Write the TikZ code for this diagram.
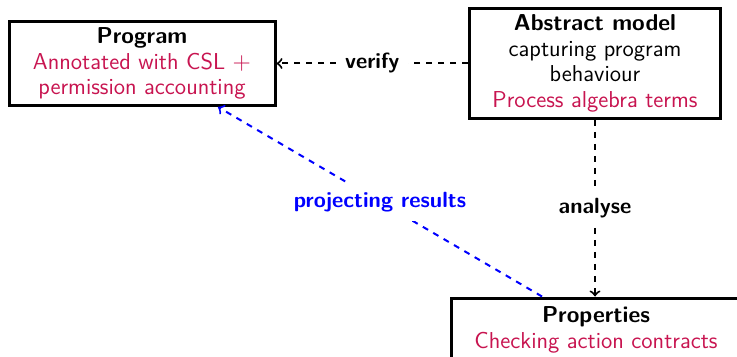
\documentclass[tikz,border=0pt]{standalone}
\definecolor{accent}{RGB}{200,20,80}
\begin{document}
\begin{tikzpicture}[x=0.5pt,y=-0.5pt,
  font=\sffamily\fontsize{11.5}{12.8}\selectfont,
  box/.style={draw, line width=1.5pt, align=center, inner sep=0pt, fill=white},
  conn/.style={dashed, line width=1pt, ->},
  lbl/.style={fill=white, font=\sffamily\bfseries\fontsize{11}{12.8}\selectfont, inner sep=4.5pt}]
\useasboundingbox (0,0) rectangle (737,357);
\begin{scope}
\clip (0,0) rectangle (737,357);
\node[box, minimum width=133pt, minimum height=42pt] (prog) at (142,63.5)
  {\textbf{Program}\\\textcolor{accent}{Annotated with CSL $+$}\\\textcolor{accent}{permission accounting}};
\node[box, minimum width=125.5pt, minimum height=55pt] (abs) at (595,63.5)
  {\textbf{Abstract model}\\capturing program\\behaviour\\\textcolor{accent}{Process algebra terms}};
\node[box, minimum width=145pt, minimum height=32pt] (prop) at (596,330)
  {\textbf{Properties}\\\textcolor{accent}{Checking action contracts}};
\draw[conn] (abs.west) -- node[lbl] {verify} (prog.east);
\draw[conn] (abs.south) -- node[lbl] {analyse} (abs.south |- prop.north);
\draw[conn, blue] ([xshift=-27pt]prop.north) -- node[lbl, text=blue] {projecting results} ([xshift=38pt]prog.south);
\end{scope}
\end{tikzpicture}
\end{document}
